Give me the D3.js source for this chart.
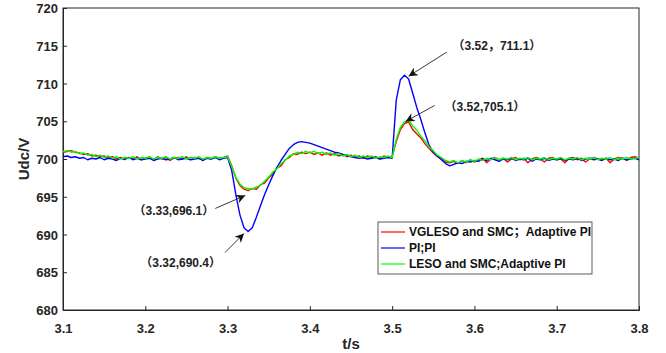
<!DOCTYPE html>
<html>
<head>
<meta charset="utf-8">
<script src="https://cdn.jsdelivr.net/npm/d3@7"></script>
<style>
    body { margin: 0; background: #fff; }
    svg { display: block; font-family: "Liberation Sans", Arial, "Noto Sans CJK SC", sans-serif; }
    .axis text { font-size: 13px; font-weight: bold; fill: #262626; }
    .axis path, .axis line { stroke: #262626; }
    .label { font-weight: bold; fill: #262626; }
    .note { font-size: 12px; font-weight: bold; fill: #222; }
    .legend text { font-size: 12px; font-weight: bold; fill: #111; }
</style>
</head>
<body>
<div id="chart"></div>
<script>
// time grid of the samples: 3.10 s to 3.80 s, one value every 5 ms
const tStart = 3.1;
const tStep = 0.005;

const xTicks = [3.1, 3.2, 3.3, 3.4, 3.5, 3.6, 3.7, 3.8];
const yTicks = [680, 685, 690, 695, 700, 705, 710, 715, 720];

const seriesNames = ['VGLESO and SMC；Adaptive PI', 'PI;PI', 'LESO and SMC;Adaptive PI'];

// VGLESO and SMC; Adaptive PI (red)
const redValues = [
    700.9, 701.0, 701.1, 700.9, 700.8, 700.6, 700.7, 700.4, 700.5, 700.3,
    700.4, 700.1, 700.3, 700.0, 700.2, 699.9, 700.2, 700.0, 700.3, 699.9,
    700.1, 700.2, 699.9, 700.3, 700.0, 700.2, 699.8, 700.1, 700.2, 700.0,
    700.3, 699.9, 700.2, 700.1, 699.8, 700.2, 700.0, 700.3, 700.1, 700.2, 700.4,
    699.1, 697.5, 696.5, 696.0, 695.8, 696.1, 696.0, 696.6, 696.8, 697.5,
    698.0, 698.8, 699.1, 699.9, 700.2, 700.7, 700.6, 700.9, 700.7, 700.9,
    700.6, 700.8, 700.5, 700.8, 700.5, 700.7, 700.4, 700.6, 700.3, 700.5,
    700.2, 700.4, 700.1, 700.4, 700.2, 700.3, 700.0, 700.4, 700.2, 700.3,
    702.3, 703.9, 704.7, 704.9, 703.9, 703.3, 702.8, 702.0, 701.4, 700.8,
    700.3, 700.0, 699.6, 699.5, 699.7, 699.4, 699.8, 699.5, 699.9, 699.6,
    699.9, 700.1, 699.5, 700.0, 700.2, 699.9, 700.1, 699.6, 700.0, 700.2,
    699.9, 700.1, 699.5, 700.0, 700.2, 700.0, 699.6, 700.1, 700.2, 699.9,
    700.0, 699.5, 700.1, 700.2, 699.9, 700.1, 699.6, 700.0, 700.2, 700.0,
    699.9, 700.1, 699.5, 700.0, 700.2, 700.1, 699.8, 700.2, 700.3, 700.1
];

// PI;PI (blue)
const blueValues = [
    700.3, 700.4, 700.2, 700.3, 700.1, 700.2, 699.9, 700.1, 700.0, 700.2,
    699.9, 700.1, 700.0, 699.8, 700.1, 700.0, 700.2, 699.9, 700.1, 699.9,
    700.0, 700.1, 699.8, 700.0, 700.1, 699.9, 700.0, 700.2, 699.9, 700.0,
    700.1, 699.9, 700.0, 700.1, 699.8, 700.1, 700.0, 700.2, 699.9, 700.1, 700.2,
    698.5, 695.3, 692.6, 690.9, 690.4, 690.9, 692.3, 693.8, 695.3, 696.6,
    697.8, 698.9, 699.8, 700.6, 701.4, 701.9, 702.2, 702.3, 702.2, 702.1,
    701.9, 701.7, 701.5, 701.3, 701.1, 700.9, 700.8, 700.6, 700.5, 700.3,
    700.2, 700.1, 700.2, 700.0, 700.1, 700.2, 700.0, 700.1, 700.2, 700.1,
    707.8, 710.5, 711.1, 710.6, 708.7, 706.8, 705.2, 703.4, 701.8, 700.9,
    700.4, 699.9, 699.4, 699.1, 699.3, 699.5, 699.4, 699.7, 699.6, 699.8,
    699.7, 700.0, 699.8, 700.1, 699.9, 699.7, 700.0, 699.9, 700.1, 699.8,
    700.0, 699.9, 700.1, 699.7, 700.0, 699.9, 700.1, 699.8, 700.0, 699.9,
    700.1, 699.8, 700.0, 699.9, 700.1, 699.8, 700.0, 700.1, 699.9, 700.0,
    699.8, 700.1, 699.9, 700.0, 699.8, 700.1, 699.9, 700.0, 700.1, 699.9
];

// LESO and SMC; Adaptive PI (green)
const greenValues = [
    701.0, 701.1, 700.9, 701.0, 700.7, 700.8, 700.5, 700.6, 700.3, 700.5,
    700.2, 700.4, 700.1, 700.3, 700.0, 700.2, 700.1, 700.3, 700.0, 700.2,
    700.1, 700.3, 700.0, 700.2, 700.1, 700.3, 700.0, 700.2, 700.1, 700.3,
    700.0, 700.2, 700.1, 700.3, 700.0, 700.2, 700.1, 700.3, 700.1, 700.2, 700.3,
    699.0, 697.6, 696.7, 696.2, 696.1, 696.0, 696.3, 696.5, 697.1, 697.6,
    698.3, 698.7, 699.4, 699.8, 700.4, 700.6, 700.9, 700.7, 701.0, 700.8,
    701.0, 700.7, 700.9, 700.6, 700.8, 700.5, 700.7, 700.4, 700.6, 700.3,
    700.5, 700.2, 700.4, 700.2, 700.4, 700.1, 700.3, 700.2, 700.4, 700.2,
    702.6, 704.2, 704.9, 705.1, 704.4, 703.8, 703.0, 702.4, 701.6, 701.1,
    700.5, 700.2, 699.8, 699.6, 699.8, 699.5, 699.8, 699.6, 699.9, 699.7,
    700.0, 699.8, 700.1, 699.9, 700.2, 699.9, 700.1, 700.0, 700.2, 699.9,
    700.1, 700.0, 700.2, 699.9, 700.1, 700.0, 700.2, 699.9, 700.1, 700.0,
    700.2, 699.9, 700.1, 700.0, 700.2, 699.9, 700.1, 700.0, 700.2, 699.9,
    700.1, 700.0, 700.2, 699.9, 700.1, 700.0, 700.2, 700.0, 700.1, 700.2
];

// annotated points
const noteTimes = [3.52, 3.52, 3.33, 3.32];
const noteValues = [711.1, 705.1, 696.1, 690.4];
const noteLabels = ['（3.52，711.1）', '（3.52,705.1）', '（3.33,696.1）', '（3.32,690.4）'];

// ---------------------------------------------------------------------------
const width = 666, height = 353;
const margin = { top: 8, right: 27, bottom: 43, left: 63 };
const innerW = width - margin.left - margin.right;
const innerH = height - margin.top - margin.bottom;

const svg = d3.select('#chart').append('svg')
    .attr('width', width)
    .attr('height', height);

const plot = svg.append('g')
    .attr('transform', `translate(${margin.left},${margin.top})`);

const xScale = d3.scaleLinear().domain([3.1, 3.8]).range([0, innerW]);
const yScale = d3.scaleLinear().domain([680, 720]).range([innerH, 0]);

// axes, ticks pointing inwards like matlab
plot.append('g')
    .attr('class', 'axis')
    .attr('transform', `translate(0,${innerH})`)
    .call(d3.axisBottom(xScale).tickValues(xTicks).tickFormat(d3.format('.1f'))
        .tickSize(-4).tickPadding(14));

plot.append('g')
    .attr('class', 'axis')
    .call(d3.axisLeft(yScale).tickValues(yTicks).tickFormat(d3.format('d'))
        .tickSize(-4).tickPadding(5))
    .selectAll('text').attr('dy', '0.36em');

plot.selectAll('.axis .domain').attr('stroke', '#262626');

// box around the plot area
plot.append('rect')
    .attr('width', innerW)
    .attr('height', innerH)
    .attr('fill', 'none')
    .attr('stroke', '#262626')
    .attr('stroke-width', 1);

// lines (drawn in legend order so green sits on top)
const line = d3.line()
    .x((d, i) => xScale(tStart + i * tStep))
    .y(d => yScale(d));

const series = [
    { name: seriesNames[0], values: redValues, color: '#ff0000' },
    { name: seriesNames[1], values: blueValues, color: '#0000ff' },
    { name: seriesNames[2], values: greenValues, color: '#00ff00' }
];

series.forEach(s => {
    plot.append('path')
        .datum(s.values)
        .attr('d', line)
        .attr('fill', 'none')
        .attr('stroke', s.color)
        .attr('stroke-width', 1.4)
        .attr('stroke-linejoin', 'round');
});

// axis labels
svg.append('text')
    .attr('class', 'label')
    .attr('x', margin.left + innerW / 2)
    .attr('y', 349)
    .attr('text-anchor', 'middle')
    .style('font-size', '15px')
    .text('t/s');

svg.append('text')
    .attr('class', 'label')
    .attr('transform', `translate(29,${margin.top + yScale(700)}) rotate(-90)`)
    .attr('text-anchor', 'middle')
    .style('font-size', '15px')
    .text('Udc/V');

// annotations: arrow tail/tip offsets from the annotated point and text spot
const noteLayout = [
    { tail: [38, -23], tip: [0, 1], text: [44, -30], anchor: 'start' },
    { tail: [26, -15], tip: [-3, 1], text: [36, -14], anchor: 'start' },
    { tail: [-37, 20], tip: [-7, 7], text: [-38, 22], anchor: 'end' },
    { tail: [-19, 21], tip: [0, 2], text: [-23, 31], anchor: 'end' }
];

const defs = svg.append('defs');
defs.append('marker')
    .attr('id', 'arrowhead')
    .attr('viewBox', '0 0 10 10')
    .attr('refX', 10)
    .attr('refY', 5)
    .attr('markerWidth', 11)
    .attr('markerHeight', 9)
    .attr('markerUnits', 'userSpaceOnUse')
    .attr('orient', 'auto')
    .append('path')
    .attr('d', 'M0,0 L10,5 L0,10 L3,5 Z')
    .attr('fill', '#111');

noteLabels.forEach((label, i) => {
    const px = xScale(noteTimes[i]);
    const py = yScale(noteValues[i]);
    const lay = noteLayout[i];
    plot.append('line')
        .attr('x1', px + lay.tail[0])
        .attr('y1', py + lay.tail[1])
        .attr('x2', px + lay.tip[0])
        .attr('y2', py + lay.tip[1])
        .attr('stroke', '#222')
        .attr('stroke-width', 0.9)
        .attr('marker-end', 'url(#arrowhead)');
    plot.append('text')
        .attr('class', 'note')
        .attr('x', px + lay.text[0])
        .attr('y', py + lay.text[1])
        .attr('dy', '0.36em')
        .attr('text-anchor', lay.anchor)
        .text(label);
});

// legend
const legend = svg.append('g')
    .attr('class', 'legend')
    .attr('transform', 'translate(378,222)');

legend.append('rect')
    .attr('width', 214)
    .attr('height', 52)
    .attr('fill', '#fff')
    .attr('stroke', '#333')
    .attr('stroke-width', 0.8);

const rows = legend.selectAll('.row')
    .data(series)
    .enter()
    .append('g')
    .attr('class', 'row')
    .attr('transform', (d, i) => `translate(0,${10 + i * 16})`);

rows.append('line')
    .attr('x1', 3)
    .attr('x2', 27)
    .attr('stroke', d => d.color)
    .attr('stroke-width', 1.2);

rows.append('text')
    .attr('x', 31)
    .attr('dy', '0.36em')
    .text(d => d.name);
</script>
</body>
</html>
